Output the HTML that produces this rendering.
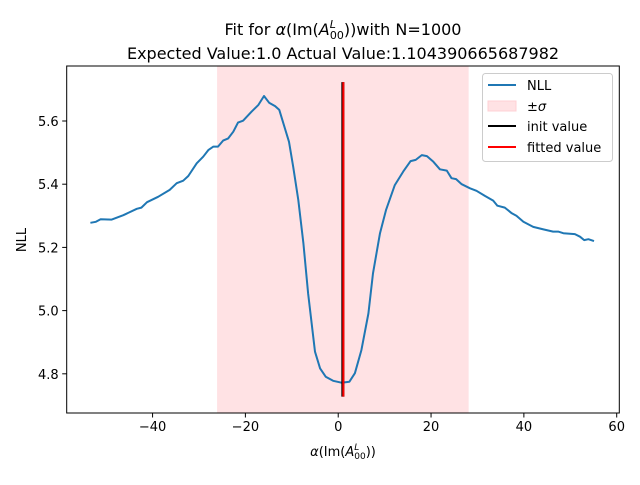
<!DOCTYPE html>
<html><head><meta charset="utf-8"><style>
body{margin:0;background:#fff;}
svg text{font-family:"DejaVu Sans","Liberation Sans",sans-serif;}
</style></head><body>
<svg id="chart" width="640" height="480" xmlns="http://www.w3.org/2000/svg">
<rect width="640" height="480" fill="#fff"/>
<g id="plot"></g>
<text x="343" y="35" text-anchor="middle" font-size="16">Fit for <tspan font-style="italic">α</tspan>(Im(<tspan font-style="italic">A</tspan><tspan font-size="11" dy="-7" font-style="italic">L</tspan><tspan font-size="11" dy="11" dx="-6">00</tspan><tspan dy="-4">))with N=1000</tspan></text>
<text x="343" y="59" text-anchor="middle" font-size="16">Expected Value:1.0 Actual Value:1.104390665687982</text>
<text transform="translate(26,240) rotate(-90)" text-anchor="middle" font-size="13">NLL</text>
<text x="343" y="456" text-anchor="middle" font-size="13"><tspan font-style="italic">α</tspan>(Im(<tspan font-style="italic">A</tspan><tspan font-size="9" dy="-6" font-style="italic">L</tspan><tspan font-size="9" dy="9" dx="-5">00</tspan><tspan dy="-3">))</tspan></text>
<g>
<rect x="482.5" y="73.5" width="130" height="88" rx="3" fill="#fff" fill-opacity="0.8" stroke="#ccc"/>
<line x1="488" y1="85" x2="516" y2="85" stroke="#1f77b4" stroke-width="2"/>
<text x="527" y="90" font-size="13">NLL</text>
<rect x="488" y="101" width="28" height="10" fill="rgb(255,226,228)" stroke="rgb(255,208,212)"/>
<text x="527" y="111" font-size="13">±<tspan font-style="italic">σ</tspan></text>
<line x1="488" y1="126" x2="516" y2="126" stroke="#000" stroke-width="2"/>
<text x="527" y="131" font-size="13">init value</text>
<line x1="488" y1="147" x2="516" y2="147" stroke="red" stroke-width="2"/>
<text x="527" y="152" font-size="13">fitted value</text>
</g>
</svg>
<script>
const nllX=[-53.4,-52.2,-51.2,-48.8,-46.3,-43.4,-42.4,-41.2,-38.8,-36.3,-34.8,-33.4,-32.3,-30.5,-29.1,-28.0,-26.9,-25.9,-24.8,-23.7,-22.6,-21.6,-20.5,-18.7,-17.2,-16.0,-14.9,-13.6,-12.7,-11.7,-10.6,-9.7,-8.6,-7.5,-6.5,-5.0,-3.9,-2.7,-1.1,0.7,2.4,3.6,5.0,6.5,7.5,9.0,10.3,12.2,14.0,15.6,16.7,18.0,19.1,20.5,21.9,23.4,24.4,25.4,26.6,28.4,29.8,31.6,33.4,34.3,35.9,37.4,38.4,39.9,42.0,44.2,46.3,47.4,48.5,51.0,52.1,53.0,53.9,55.1];
const nllY=[5.278,5.281,5.289,5.288,5.302,5.322,5.326,5.343,5.360,5.382,5.403,5.411,5.426,5.466,5.487,5.508,5.519,5.519,5.538,5.545,5.566,5.595,5.601,5.629,5.651,5.679,5.658,5.647,5.635,5.587,5.534,5.455,5.350,5.213,5.055,4.870,4.817,4.791,4.778,4.772,4.775,4.802,4.875,4.991,5.118,5.245,5.318,5.397,5.440,5.473,5.477,5.492,5.489,5.471,5.447,5.443,5.419,5.416,5.400,5.387,5.379,5.363,5.348,5.332,5.326,5.308,5.300,5.281,5.265,5.257,5.250,5.250,5.245,5.242,5.234,5.223,5.226,5.220];
const sigmaBand=[-26.1,28.1];
const initValue=1.0;
const fittedValue=1.104390665687982;
const vlineRange=[4.728,5.723];
const xTicks=[-40,-20,0,20,40,60];
const yTicks=[4.8,5.0,5.2,5.4,5.6];
const yTickLabels=["4.8","5.0","5.2","5.4","5.6"];

const L=66.7,R=619.3,T=66,B=413;
const xMin=-58.5,xMax=60.56,yMin=4.676,yMax=5.774;
const sx=v=>L+(v-xMin)/(xMax-xMin)*(R-L);
const sy=v=>B-(v-yMin)/(yMax-yMin)*(B-T);
const NS="http://www.w3.org/2000/svg";
const g=document.getElementById('plot');
function mk(t,a){const e=document.createElementNS(NS,t);for(const k in a)e.setAttribute(k,a[k]);g.appendChild(e);return e;}

const band=mk('rect',{x:sx(sigmaBand[0]),y:T,width:sx(sigmaBand[1])-sx(sigmaBand[0]),height:B-T,fill:'rgb(255,226,228)'});


const pts=nllX.map((x,i)=>sx(x).toFixed(1)+','+sy(nllY[i]).toFixed(1)).join(' ');
const line=mk('polyline',{points:pts,fill:'none',stroke:'#1f77b4','stroke-width':2,'stroke-linejoin':'round'});


const il=mk('line',{x1:sx(initValue),x2:sx(initValue),y1:sy(vlineRange[0]),y2:sy(vlineRange[1]),stroke:'#000','stroke-width':3});


const fl=mk('line',{x1:sx(fittedValue),x2:sx(fittedValue),y1:sy(vlineRange[0]),y2:sy(vlineRange[1]),stroke:'red','stroke-width':2});


const fr=mk('rect',{x:L,y:T,width:R-L,height:B-T,fill:'none',stroke:'#000','stroke-width':1});


xTicks.forEach(v=>{
  const x=sx(v);
  const t=mk('line',{x1:x,x2:x,y1:B,y2:B+4.5,stroke:'#000'});
  
  
  const tx=mk('text',{x:x,y:B+18,'text-anchor':'middle','font-size':13});
  tx.textContent=v<0?'\u2212'+Math.abs(v):String(v);
  
  
});
yTicks.forEach((v,i)=>{
  const y=sy(v);
  const t=mk('line',{x1:L-4.5,x2:L,y1:y,y2:y,stroke:'#000'});
  
  
  const tx=mk('text',{x:L-8,y:y+5,'text-anchor':'end','font-size':13});
  tx.textContent=yTickLabels[i];
  
  
});
</script>
</body></html>
